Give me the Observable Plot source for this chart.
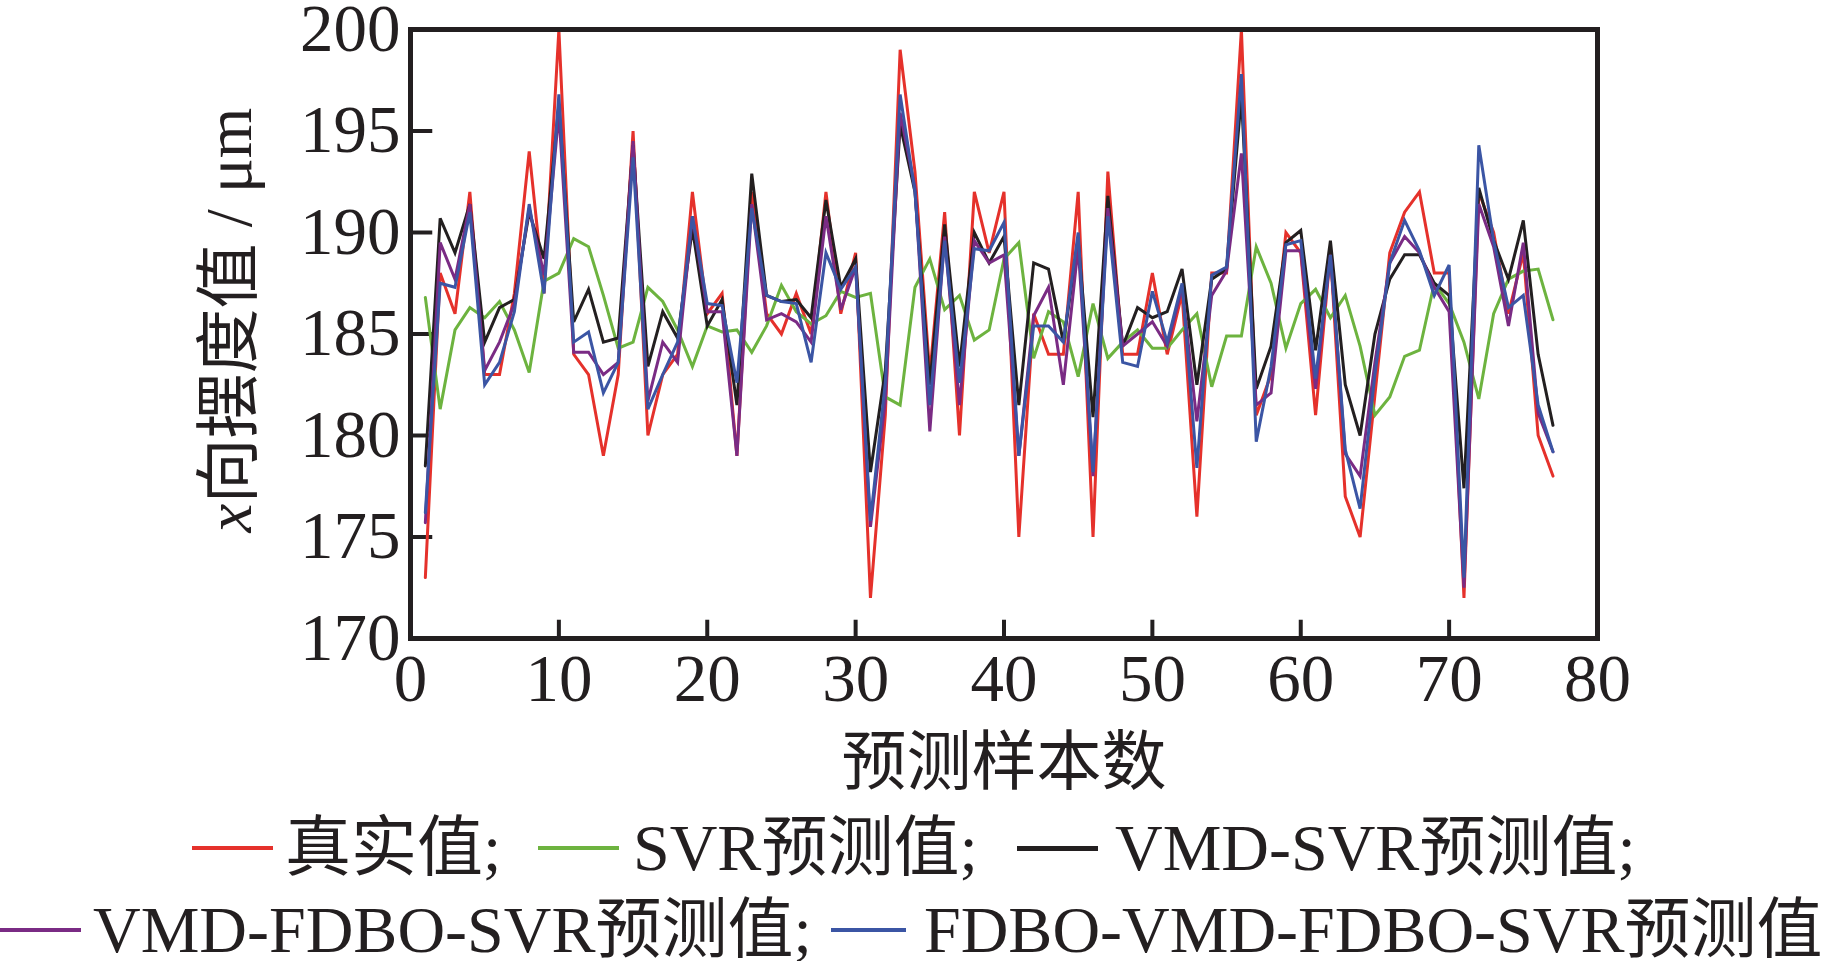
<!DOCTYPE html>
<html>
<head>
<meta charset="utf-8">
<script src="https://cdn.jsdelivr.net/npm/d3@7"></script>
<script src="https://cdn.jsdelivr.net/npm/@observablehq/plot@0.6"></script>
<style>
  html, body { margin: 0; padding: 0; background: #fff; overflow: hidden; }
  #chart { width: 1822px; }
  #legend { position: relative; width: 1822px; height: 161px; overflow: hidden;
    font-family: "Liberation Serif", "Times New Roman", "Noto Sans CJK SC", serif; font-size: 66px; color: #231f20; }
  .item { position: absolute; height: 80px; display: flex; align-items: center; white-space: nowrap; line-height: 80px; }
  .swatch { position: absolute; height: 4px; }
</style>
</head>
<body>
<div id="chart"></div>
<div id="legend"></div>
<script>
// ---- data ----
const samples = d3.range(1, 78);
const truth = [173,188,186,192,183,183,187,194,187,200,
  184,183,179,183,195,180,183,184,192,186,
  187,179,192,186,185,187,185,192,186,189,
  172,181,199,193,183,191,180,192,189,192,
  175,186,184,184,192,175,193,184,184,188,
  184,187,176,188,188,200,181,183,190,189,
  181,189,177,175,182,189,191,192,188,188,
  172,192,190,186,189,180,178];
const svr = [186.8,181.3,185.2,186.3,185.8,186.6,185.2,183.1,187.6,188.0,
  189.7,189.3,186.9,184.3,184.6,187.3,186.6,185.2,183.4,185.4,
  185.1,185.2,184.1,185.4,187.4,186.1,185.5,185.9,187.1,186.8,
  187.0,181.9,181.5,187.3,188.7,186.2,186.9,184.7,185.2,188.7,
  189.5,183.8,186.1,185.6,182.9,186.5,183.8,184.6,185.2,184.3,
  184.3,185.2,186.0,182.4,184.9,184.9,189.3,187.5,184.3,186.5,
  187.2,185.8,186.9,184.4,181.0,181.9,183.9,184.2,187.5,186.5,
  184.6,181.8,186.0,187.7,188.1,188.2,185.7];
const vmdSvr = [178.5,190.7,189.0,191.4,184.6,186.3,186.7,191.0,188.7,196.3,
  185.6,187.2,184.6,184.8,194.3,183.4,186.1,184.8,190.2,185.4,
  186.7,181.5,192.9,186.9,186.6,186.7,185.8,191.6,187.3,188.7,
  178.2,183.2,195.3,192.0,182.5,190.4,183.4,190.0,188.5,189.8,
  181.5,188.5,188.2,184.6,189.6,180.9,191.8,184.4,186.3,185.8,
  186.1,188.2,182.5,187.7,188.2,196.7,182.3,184.4,189.5,190.1,
  184.2,189.6,182.5,180.0,185.0,187.7,188.9,188.9,187.5,186.9,
  177.4,192.2,189.6,187.7,190.6,184.0,180.5];
const vmdFdboSvr = [175.7,189.5,187.7,191.4,183.2,184.6,186.5,191.2,187.9,195.9,
  184.1,184.1,183.0,183.6,194.5,181.7,184.6,183.6,190.8,186.1,
  186.1,179.0,191.4,185.7,186.0,185.6,184.6,190.8,186.2,188.3,
  175.5,181.7,195.9,192.2,180.2,189.8,181.5,189.6,188.5,188.9,
  179.0,185.9,187.3,182.5,189.3,178.0,191.2,184.4,185.0,185.6,
  184.4,187.3,180.7,186.9,188.1,193.9,181.5,182.1,189.1,189.1,
  182.3,188.9,179.1,178.0,183.6,188.5,189.8,189.0,187.3,186.1,
  172.5,191.4,189.3,185.4,189.5,181.1,179.2];
const fdboVmdFdboSvr = [176.2,187.5,187.3,191.0,182.5,183.6,186.1,191.4,187.0,196.8,
  184.6,185.1,182.1,183.6,193.7,181.3,183.0,184.6,190.8,186.5,
  186.4,182.6,191.2,186.9,186.6,186.5,183.6,189.0,187.2,188.3,
  175.8,182.6,196.8,192.0,181.5,189.6,182.6,189.2,189.1,190.5,
  179.0,185.4,185.4,184.6,190.0,178.2,190.8,183.6,183.4,187.1,
  184.6,187.5,178.4,187.9,188.3,197.8,179.7,183.4,189.4,189.6,
  182.8,188.9,179.3,176.4,183.0,188.5,190.6,189.1,186.9,188.4,
  173.0,194.3,189.6,186.3,186.9,181.5,179.2];
const xTicks = [0,10,20,30,40,50,60,70,80];
const yTicks = [170,175,180,185,190,195,200];
const seriesNames = ["真实值;", "SVR预测值;", "VMD-SVR预测值;", "VMD-FDBO-SVR预测值;", "FDBO-VMD-FDBO-SVR预测值"];
const seriesColors = ["#e5312b", "#6db33f", "#231f20", "#7a2b84", "#3b55a4"];
const seriesValues = [truth, svr, vmdSvr, vmdFdboSvr, fdboVmdFdboSvr];
const xLabel = "预测样本数";
const yLabel = "x向摆度值 / μm";

const ink = "#231f20";
const font = '"Liberation Serif", "Times New Roman", "Noto Sans CJK SC", serif';

const lineMarks = seriesValues.map((vals, k) =>
  Plot.line(samples.map((s, i) => ({s, v: vals[i]})), {
    x: "s", y: "v", stroke: seriesColors[k], strokeWidth: 3, strokeLinejoin: "miter", strokeMiterlimit: 4
  }));

const svg = Plot.plot({
  width: 1822,
  height: 800,
  marginLeft: 410,
  marginRight: 225,
  marginTop: 29,
  marginBottom: 162,
  x: {domain: [0, 80]},
  y: {domain: [170, 200]},
  style: {fontFamily: font, fontSize: "66px", color: ink, background: "#fff", overflow: "visible"},
  marks: [
    Plot.axisX({ticks: xTicks, tickSize: 0, tickPadding: 15, tickFormat: d => String(d), label: null, fontSize: 67}),
    Plot.axisY({ticks: yTicks, tickSize: 0, tickPadding: 10, tickFormat: d => String(d), label: null, fontSize: 67}),
    Plot.ruleY(yTicks, {y: d => d, x1: 0, x2: 1.5, stroke: ink, strokeWidth: 4}),
    Plot.ruleX(xTicks, {x: d => d, y1: 170, y2: 170.9, stroke: ink, strokeWidth: 4}),
    ...lineMarks,
    Plot.frame({stroke: ink, strokeWidth: 5}),
    Plot.text([xLabel], {frameAnchor: "bottom", dy: 125, fontSize: 65, fill: ink, text: d => d,
      textAnchor: "middle", lineAnchor: "middle"}),
    Plot.text([yLabel], {frameAnchor: "left", dx: -180, dy: -14, rotate: -90, fontSize: 65, fill: ink, text: d => d,
      textAnchor: "middle", lineAnchor: "middle"})
  ]
});
document.getElementById("chart").appendChild(svg);

// italic "x" in the y label
d3.select(svg).selectAll("text").each(function() {
  if (this.textContent === yLabel) {
    const t = d3.select(this);
    t.text(null);
    t.append("tspan").attr("font-style", "italic").text(yLabel.slice(0, 1));
    t.append("tspan").text(yLabel.slice(1));
  }
});

// legend (HTML, below the SVG)
const legendLayout = [
  {line: [192, 273], text: 285, y: 48},
  {line: [538, 619], text: 633, y: 48},
  {line: [1017, 1098], text: 1115, y: 48},
  {line: [0, 81], text: 93, y: 130},
  {line: [831, 906], text: 924, y: 130}
];
const legend = document.getElementById("legend");
seriesNames.forEach((name, k) => {
  const L = legendLayout[k];
  const sw = document.createElement("div");
  sw.className = "swatch";
  sw.style.left = L.line[0] + "px";
  sw.style.width = (L.line[1] - L.line[0]) + "px";
  sw.style.top = (L.y - 2) + "px";
  sw.style.height = (k === 2 ? 5 : 4) + "px";
  sw.style.background = seriesColors[k];
  legend.appendChild(sw);
  const it = document.createElement("div");
  it.className = "item";
  it.style.left = L.text + "px";
  it.style.top = (L.y - 40) + "px";
  it.textContent = name;
  legend.appendChild(it);
});
</script>
</body>
</html>
